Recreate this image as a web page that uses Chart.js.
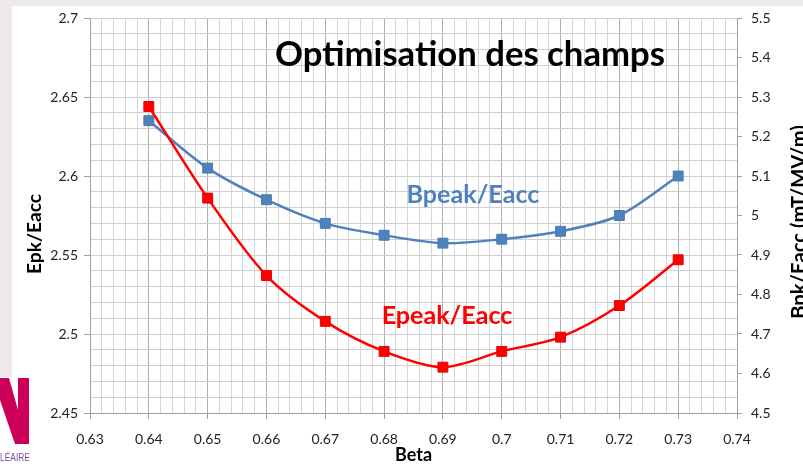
<!DOCTYPE html>
<html>
<head>
<meta charset="utf-8">
<script src="https://cdn.jsdelivr.net/npm/chart.js@4"></script>
<style>
html, body { margin: 0; padding: 0; background: #fff; }
#wrap { width: 803px; height: 466px; }
</style>
</head>
<body>
<div id="wrap"><canvas id="myChart" width="803" height="466"></canvas></div>
<script>
// beta values and the two field ratios
var beta = [0.64, 0.65, 0.66, 0.67, 0.68, 0.69, 0.70, 0.71, 0.72, 0.73];
var epeakEacc = [2.644, 2.586, 2.537, 2.508, 2.489, 2.479, 2.489, 2.498, 2.518, 2.547];
var bpeakEacc = [5.24, 5.12, 5.04, 4.98, 4.95, 4.93, 4.94, 4.96, 5.00, 5.10];

// grid / tick positions
var betaTicks = [];
for (var i = 0; i <= 55; i++) betaTicks.push(+(0.63 + i * 0.002).toFixed(3));
var epkTicks = [];
for (var i = 0; i <= 25; i++) epkTicks.push(+(2.45 + i * 0.01).toFixed(2));
var bpkTicks = [];
for (var i = 0; i <= 10; i++) bpkTicks.push(+(4.5 + i * 0.1).toFixed(1));

var FONT = 'Lato, "Open Sans", sans-serif';

function isMultiple(v, step) {
	var q = v / step;
	return Math.abs(q - Math.round(q)) < 1e-6;
}

function fitFont(ctx, text, width, weight) {
	ctx.font = weight + ' 20px ' + FONT;
	var w = ctx.measureText(text).width;
	return 20 * width / w;
}

function drawFitted(ctx, text, cx, cy, width, color, rot) {
	var size = fitFont(ctx, text, width, 'bold');
	ctx.save();
	ctx.translate(cx, cy);
	if (rot) ctx.rotate(rot);
	ctx.font = 'bold ' + size.toFixed(1) + 'px ' + FONT;
	ctx.fillStyle = color;
	ctx.textAlign = 'center';
	ctx.textBaseline = 'middle';
	ctx.fillText(text, 0, 0);
	ctx.restore();
}

var decor = {
	id: 'decor',
	beforeDraw: function(chart) {
		var ctx = chart.ctx;
		ctx.save();
		ctx.fillStyle = '#efe9ea';
		ctx.fillRect(0, 0, 803, 466);
		ctx.fillStyle = '#ffffff';
		ctx.fillRect(12, 6, 791, 460);
		ctx.fillRect(0, 377, 12, 89);
		ctx.restore();
	},
	afterDraw: function(chart) {
		var ctx = chart.ctx;
		// headline and series labels
		drawFitted(ctx, 'Optimisation des champs', 470, 55, 390, '#000000');
		drawFitted(ctx, 'Bpeak/Eacc', 473, 195, 133, '#4f81bd');
		drawFitted(ctx, 'Epeak/Eacc', 447, 316, 131, '#ff0000');
		// axis titles
		drawFitted(ctx, 'Epk/Eacc', 35, 234, 80, '#000000', -Math.PI / 2);
		drawFitted(ctx, 'Bpk/Eacc (mT/MV/m)', 799, 222, 194, '#000000', -Math.PI / 2);

		// logo corner
		ctx.save();
		ctx.fillStyle = '#cc0058';
		ctx.beginPath();
		ctx.moveTo(0, 378);
		ctx.lineTo(9, 378);
		ctx.lineTo(18, 410);
		ctx.lineTo(18, 378);
		ctx.lineTo(29, 378);
		ctx.lineTo(29, 444);
		ctx.lineTo(15, 444);
		ctx.lineTo(0, 400);
		ctx.closePath();
		ctx.fill();
		ctx.font = '11px "Liberation Sans Narrow", "Liberation Sans", sans-serif';
		ctx.fillStyle = '#7a4a9e';
		ctx.textBaseline = 'middle';
		ctx.textAlign = 'left';
		var w = ctx.measureText('LÉAIRE').width;
		ctx.translate(0, 458);
		ctx.scale(30 / w, 1);
		ctx.fillText('LÉAIRE', 0, 0);
		ctx.restore();
	}
};

var myChart = new Chart(document.getElementById('myChart'), {
	type: 'line',
	data: {
		datasets: [{
			label: 'Epeak/Eacc',
			data: beta.map(function(b, i) { return {x: b, y: epeakEacc[i]}; }),
			yAxisID: 'y',
			borderColor: '#ff0000',
			backgroundColor: '#ff0000',
			borderWidth: 2.5,
			pointStyle: 'rect',
			pointRadius: 7,
			pointBorderWidth: 1,
			pointBorderColor: '#e80000',
			tension: 0.3,
			order: 0
		}, {
			label: 'Bpeak/Eacc',
			data: beta.map(function(b, i) { return {x: b, y: bpeakEacc[i]}; }),
			yAxisID: 'y1',
			borderColor: '#4f81bd',
			backgroundColor: '#4f81bd',
			borderWidth: 2.5,
			pointStyle: 'rect',
			pointRadius: 7,
			pointBorderWidth: 1,
			pointBorderColor: '#4a7ab3',
			tension: 0.3,
			order: 1
		}]
	},
	options: {
		responsive: false,
		animation: false,
		devicePixelRatio: 1,
		layout: { padding: { top: 18, left: 0, right: 0, bottom: 0 } },
		plugins: {
			legend: { display: false },
			tooltip: { enabled: false }
		},
		scales: {
			x: {
				type: 'linear',
				position: 'bottom',
				min: 0.63,
				max: 0.74,
				afterBuildTicks: function(s) { s.ticks = betaTicks.map(function(v) { return {value: v}; }); },
				afterFit: function(s) { s.height = 53; },
				ticks: {
					autoSkip: false,
					maxRotation: 0,
					padding: 12,
					color: '#222',
					font: { family: FONT, size: 14 },
					callback: function(v) { return isMultiple(v, 0.01) ? String(Math.round(v * 100) / 100) : ''; }
				},
				grid: {
					color: function(c) { return c.tick && isMultiple(c.tick.value, 0.01) ? '#b0b0b0' : '#d6d6d6'; },
					tickColor: function(c) { return c.tick && isMultiple(c.tick.value, 0.01) ? '#a0a0a0' : 'rgba(0,0,0,0)'; },
					tickLength: 6
				},
				border: { color: '#a0a0a0' },
				title: {
					display: true,
					text: 'Beta',
					color: '#000',
					font: { family: FONT, size: 18, weight: 'bold' },
					padding: { top: 0, bottom: 0 }
				}
			},
			y: {
				position: 'left',
				min: 2.45,
				max: 2.7,
				afterBuildTicks: function(s) { s.ticks = epkTicks.map(function(v) { return {value: v}; }); },
				afterFit: function(s) { s.width = 90; },
				ticks: {
					autoSkip: false,
					padding: 6,
					color: '#222',
					font: { family: FONT, size: 14 },
					callback: function(v) { return isMultiple(v, 0.05) ? String(Math.round(v * 100) / 100) : ''; }
				},
				grid: {
					color: '#cfcfcf',
					tickColor: function(c) { return c.tick && isMultiple(c.tick.value, 0.05) ? '#a0a0a0' : 'rgba(0,0,0,0)'; },
					tickLength: 6
				},
				border: { color: '#a0a0a0' }
			},
			y1: {
				position: 'right',
				min: 4.5,
				max: 5.5,
				afterBuildTicks: function(s) { s.ticks = bpkTicks.map(function(v) { return {value: v}; }); },
				afterFit: function(s) { s.width = 66; },
				ticks: {
					autoSkip: false,
					padding: 9,
					color: '#222',
					font: { family: FONT, size: 14 },
					callback: function(v) { return String(Math.round(v * 10) / 10); }
				},
				grid: {
					drawOnChartArea: false,
					tickColor: '#a0a0a0',
					tickLength: 5
				},
				border: { color: '#a0a0a0' }
			}
		}
	},
	plugins: [decor]
});
</script>
</body>
</html>
